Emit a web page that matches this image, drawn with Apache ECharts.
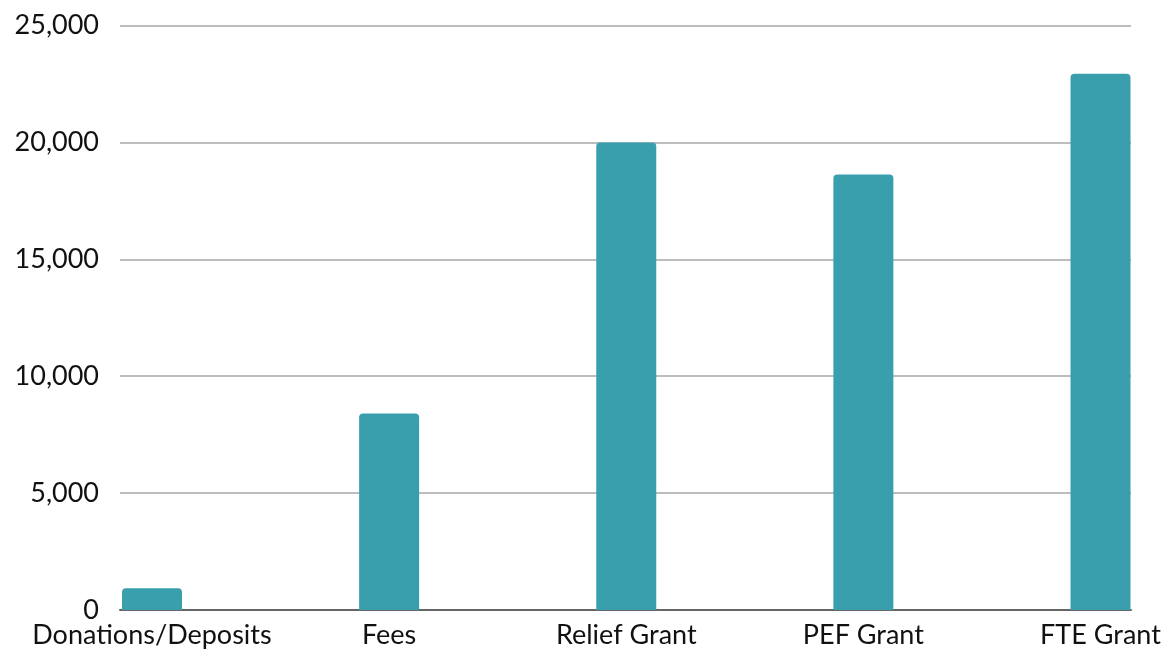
<!DOCTYPE html>
<html>
<head>
<meta charset="utf-8">
<script src="https://cdn.jsdelivr.net/npm/echarts@6/dist/echarts.min.js"></script>
<style>html,body{margin:0;padding:0;background:#fff}#c{width:1172px;height:652px}</style>
</head>
<body>
<div id="c"></div>
<script>
const categories = ['Donations/Deposits', 'Fees', 'Relief Grant', 'PEF Grant', 'FTE Grant'];
const values = [930, 8400, 20000, 18630, 22940];
const yTicks = [0, 5000, 10000, 15000, 20000, 25000];

const FONT = 'Lato';
const chart = echarts.init(document.getElementById('c'));
chart.setOption({
  animation: false,
  backgroundColor: '#ffffff',
  grid: [
    { left: 120, right: 41, top: 25.5, bottom: 42, outerBoundsMode: 'none', containLabel: false },
    { left: 152, right: 71.5, top: 25.5, bottom: 42, outerBoundsMode: 'none', containLabel: false }
  ],
  xAxis: [
    { type: 'value', gridIndex: 0, min: 0, max: 1, show: true,
      axisLine: { show: true, lineStyle: { color: '#666666', width: 2 } },
      axisTick: { show: false }, axisLabel: { show: false }, splitLine: { show: false } },
    { type: 'category', gridIndex: 1, data: categories, boundaryGap: false,
      axisLine: { show: false }, axisTick: { show: false }, splitLine: { show: false },
      axisLabel: { color: '#111111', fontFamily: FONT, fontSize: 27, margin: 12, interval: 0 } }
  ],
  yAxis: [
    { type: 'value', gridIndex: 0, min: yTicks[0], max: yTicks[yTicks.length - 1], interval: 5000,
      axisLine: { show: false }, axisTick: { show: false },
      axisLabel: { color: '#111111', fontFamily: FONT, fontSize: 27, margin: 21, padding: [0, 0, 6, 0],
        formatter: v => v.toLocaleString('en-US') },
      splitLine: { lineStyle: { color: '#bdbdbd', width: 2 } } },
    { type: 'value', gridIndex: 1, min: 0, max: 25000, show: false, splitLine: { show: false } }
  ],
  series: [{
    type: 'bar', xAxisIndex: 1, yAxisIndex: 1, data: values, barWidth: 60, clip: false,
    itemStyle: { color: '#3a9fad', borderRadius: [4, 4, 0, 0] }
  }]
});
</script>
</body>
</html>
